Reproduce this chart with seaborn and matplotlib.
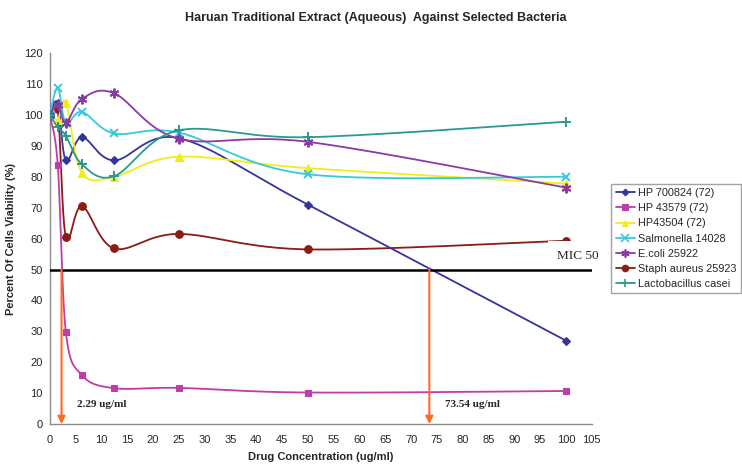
import numpy as np
import pandas as pd
import matplotlib
matplotlib.use("Agg")
import matplotlib.pyplot as plt
from matplotlib.lines import Line2D
from matplotlib.ticker import MultipleLocator
import seaborn as sns

# drug concentrations (ug/ml)
conc = [0, 1.56, 3.125, 6.25, 12.5, 25, 50, 100]

hp700824 = [100, 103.8, 85.3, 92.8, 85.3, 92.5, 71.0, 27.0]
hp43579 = [100, 83.8, 29.8, 15.8, 11.6, 11.7, 10.2, 10.7]
hp43504 = [100, 98.5, 104.0, 81.3, 80.0, 86.5, 82.8, 77.8]
salmonella = [100, 108.8, 97.5, 101.0, 94.0, 94.3, 80.8, 80.0]
ecoli = [100, 103.3, 97.5, 105.2, 107.0, 92.3, 91.3, 76.5]
staph = [100, 101.8, 60.5, 70.5, 56.8, 61.5, 56.5, 59.3]
lacto = [100, 96.0, 93.3, 84.0, 80.2, 95.0, 92.8, 97.8]

series_names = ["HP 700824 (72)", "HP 43579 (72)", "HP43504 (72)",
                "Salmonella 14028", "E.coli 25922", "Staph aureus 25923",
                "Lactobacillus casei"]
series_values = [hp700824, hp43579, hp43504, salmonella, ecoli, staph, lacto]
colors = ["#34349a", "#c03ca8", "#f2ec18", "#38c8dc", "#8a3aa8", "#8a1c14", "#2a9a8c"]
markers = ["D", "s", "^", "x", (6, 2, 0), "o", "+"]
msizes = [4, 5, 5.5, 6, 7, 5.5, 7]

mic_x = [2.29, 73.54]
mic_labels = ["2.29 ug/ml", "73.54 ug/ml"]


def smooth(x, y, n=30):
    # excel-style smoothed line (bezier through the points)
    p = np.column_stack([x, y]).astype(float)
    pts = []
    for i in range(len(p) - 1):
        p0 = p[max(i - 1, 0)]
        p1 = p[i]
        p2 = p[i + 1]
        p3 = p[min(i + 2, len(p) - 1)]
        c1 = p1 + (p2 - p0) / 6
        c2 = p2 - (p3 - p1) / 6
        t = np.linspace(0, 1, n)[:, None]
        b = ((1 - t) ** 3) * p1 + 3 * ((1 - t) ** 2) * t * c1 + 3 * (1 - t) * t ** 2 * c2 + t ** 3 * p2
        pts.append(b if i == 0 else b[1:])
    pts = np.vstack(pts)
    return pts[:, 0], pts[:, 1]


sns.set_style("white")
plt.rcParams["font.family"] = ["Liberation Sans", "DejaVu Sans"]

fig = plt.figure(figsize=(7.42, 4.66), dpi=100)
ax = fig.add_axes([0.067, 0.09, 0.7305, 0.796])

for name, vals, c, m, ms in zip(series_names, series_values, colors, markers, msizes):
    sx, sy = smooth(conc, vals)
    z = 2 if name.startswith("Staph") else 3
    sns.lineplot(x=sx, y=sy, sort=False, estimator=None, color=c, lw=1.3, ax=ax, zorder=z)
    ax.plot(conc, vals, linestyle="none", marker=m, color=c, markersize=ms,
            markeredgewidth=1.4 if m in ("x", "+", (6, 2, 0)) else 0.8, zorder=z)

# MIC 50 line and label (label box hides the end of the staph line, as in the original)
ax.axhline(50, color="black", lw=1.8, zorder=5)
ax.text(98.2, 53.3, "MIC 50", family="Liberation Serif", fontsize=9.5,
        bbox=dict(facecolor="white", edgecolor="none", pad=6.5), zorder=4)

for mx, lab in zip(mic_x, mic_labels):
    ax.annotate("", xy=(mx, 0), xytext=(mx, 50),
                arrowprops=dict(arrowstyle="-|>", color="#ff6a2a", lw=1.5,
                                mutation_scale=11, shrinkA=0, shrinkB=0), zorder=6)
    ax.text(mx + 3, 5.5, lab, family="Liberation Serif", fontsize=8, fontweight="bold")

ax.set_xlim(0, 105)
ax.set_ylim(0, 120)
ax.xaxis.set_major_locator(MultipleLocator(5))
ax.xaxis.set_minor_locator(MultipleLocator(1))
ax.yaxis.set_major_locator(MultipleLocator(10))
for s in ["top", "right"]:
    ax.spines[s].set_visible(False)
for s in ["left", "bottom"]:
    ax.spines[s].set_color("#8c8c8c")
    ax.spines[s].set_linewidth(1)
ax.tick_params(axis="both", which="major", direction="out", length=3, color="#8c8c8c",
               labelsize=8, pad=2)
ax.tick_params(axis="x", which="minor", direction="out", length=1.5, color="#8c8c8c")
ax.tick_params(axis="x", which="major", pad=5)

ax.set_xlabel("Drug Concentration (ug/ml)", fontsize=8, fontweight="bold", labelpad=5)
ax.set_ylabel("Percent Of Cells Viability (%)", fontsize=8, fontweight="bold", labelpad=6)
fig.text(0.507, 0.962, "Haruan Traditional Extract (Aqueous)  Against Selected Bacteria",
         ha="center", va="center", fontsize=9, fontweight="bold")

handles = [Line2D([0], [0], color=c, marker=m, markersize=ms * 0.85, lw=1.3,
                  markeredgewidth=1.2 if m in ("x", "+", (6, 2, 0)) else 0.8)
           for c, m, ms in zip(colors, markers, msizes)]
leg = fig.legend(handles, series_names, loc="upper left", bbox_to_anchor=(0.824, 0.606),
                 fontsize=7.8, frameon=True, fancybox=False, edgecolor="#8c8c8c",
                 handlelength=1.8, handletextpad=0.25, labelspacing=0.48,
                 borderpad=0.4, borderaxespad=0)
leg.get_frame().set_linewidth(1)

fig.savefig("out.png", dpi=100)
